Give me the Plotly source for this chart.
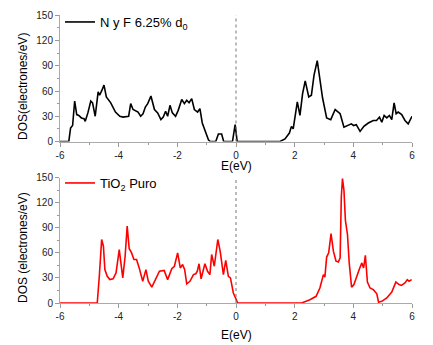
import plotly.graph_objects as go
from plotly.subplots import make_subplots

# ---- data ----
E_nyf = [-6, -5.70, -5.64, -5.57, -5.50, -5.43, -5.36, -5.27, -5.18, -5.14, -5.05, -4.95, -4.89, -4.80,
         -4.70, -4.65, -4.57, -4.50, -4.42, -4.27, -4.11, -3.96, -3.85, -3.74, -3.66, -3.59, -3.51, -3.34,
         -3.25, -3.17, -3.09, -3.01, -2.90, -2.78, -2.67, -2.56, -2.48, -2.40, -2.33, -2.25, -2.17, -2.06,
         -1.97, -1.85, -1.76, -1.68, -1.60, -1.51, -1.42, -1.31, -1.23, -1.15, -1.06, -0.94, -0.88, -0.69,
         -0.60, -0.49, -0.42, -0.12, -0.03, 0.04, 1.50, 1.67, 1.82, 1.89, 1.95, 2.09, 2.18, 2.27, 2.36,
         2.48, 2.57, 2.66, 2.77, 2.86, 2.95, 3.09, 3.23, 3.38, 3.55, 3.68, 3.82, 3.93, 4.01, 4.10, 4.23,
         4.36, 4.51, 4.68, 4.79, 4.89, 4.97, 5.05, 5.14, 5.23, 5.31, 5.39, 5.46, 5.53, 5.65, 5.76, 5.87, 6.0]
DOS_nyf = [0, 0, 16, 19, 48, 32, 31, 28, 27, 24, 34, 48, 46, 30,
           59, 55, 61, 67, 53, 46, 35, 30, 29, 30, 30, 45, 38, 35,
           30, 33, 41, 45, 54, 38, 34, 26, 29, 36, 30, 43, 34, 30,
           37, 50, 45, 49, 46, 51, 38, 35, 39, 22, 13, 2, 0, 0,
           9, 9, 0, 0, 20, 0, 0, 3, 10, 18, 15, 47, 31, 57, 72,
           53, 55, 79, 96, 73, 52, 28, 26, 38, 33, 17, 19, 21, 19, 20, 12,
           18, 22, 25, 25, 29, 23, 31, 28, 31, 26, 46, 33, 35, 32, 25, 21, 30]

E_tio2 = [-6, -4.73, -4.66, -4.58, -4.52, -4.47, -4.39, -4.30, -4.19, -4.09, -3.98, -3.86, -3.78, -3.71,
          -3.64, -3.56, -3.48, -3.39, -3.30, -3.18, -3.07, -2.99, -2.87, -2.76, -2.61, -2.45, -2.33, -2.19,
          -2.10, -1.99, -1.90, -1.82, -1.75, -1.68, -1.57, -1.45, -1.37, -1.32, -1.26, -1.19, -1.06, -0.97,
          -0.89, -0.83, -0.74, -0.62, -0.54, -0.43, -0.35, -0.26, -0.19, -0.09, -0.01, 0.06, 2.24, 2.52,
          2.73, 2.86, 2.98, 3.03, 3.09, 3.16, 3.24, 3.32, 3.41, 3.49, 3.55, 3.59, 3.63, 3.68, 3.73, 3.80,
          3.86, 3.94, 4.02, 4.12, 4.21, 4.29, 4.35, 4.41, 4.48, 4.57, 4.68, 4.80, 4.86, 4.97, 5.14, 5.31,
          5.45, 5.56, 5.64, 5.76, 5.84, 5.90, 5.99]
DOS_tio2 = [0, 0, 32, 76, 68, 40, 32, 28, 29, 36, 64, 30, 56, 92,
            65, 60, 52, 52, 42, 26, 40, 26, 19, 28, 38, 39, 28, 41,
            44, 60, 42, 46, 40, 23, 26, 34, 35, 38, 47, 29, 47, 38,
            34, 58, 44, 76, 62, 34, 51, 32, 30, 12, 5, 0, 0, 4,
            8, 18, 34, 31, 55, 60, 83, 62, 50, 49, 54, 127, 149, 135, 99, 82,
            48, 19, 22, 33, 41, 48, 42, 57, 25, 18, 16, 11, 1, 2, 6, 13,
            25, 22, 21, 24, 28, 26, 28]

x_ticks = [-6, -4, -2, 0, 2, 4, 6]
y_ticks = [0, 30, 60, 90, 120, 150]
name_nyf = "N y F 6.25% d<sub>0</sub>"
name_tio2 = "TiO<sub>2</sub> Puro"
ytitle_top = "DOS(electrones/eV)"
ytitle_bot = "DOS (electrones/eV)"
xtitle = "E(eV)"

FONT = "Liberation Sans, Arial, sans-serif"
W, H = 433, 345
ML, MR, MT, MB = 60, 21, 0, 42
PH = H - MT - MB

def py2paper(py):
    return (H - MB - py) / PH

def px2paper(px):
    return (px - ML) / (W - ML - MR)

fig = make_subplots(rows=2, cols=1)
fig.add_trace(go.Scatter(x=E_nyf, y=DOS_nyf, mode="lines", name=name_nyf,
                         line=dict(color="black", width=1.6), legend="legend"), row=1, col=1)
fig.add_trace(go.Scatter(x=E_tio2, y=DOS_tio2, mode="lines", name=name_tio2,
                         line=dict(color="#ff0000", width=1.6), legend="legend2"), row=2, col=1)

for r in (1, 2):
    fig.add_vline(x=0, line=dict(color="#777", width=1, dash="dot"), row=r, col=1)

axis_common = dict(showline=True, linecolor="#aaa", linewidth=1, ticks="outside", ticklen=4,
                   tickcolor="#999", tickwidth=1, showgrid=False, zeroline=False,
                   tickfont=dict(family=FONT, size=10, color="#222"))
fig.update_xaxes(range=[-6, 6], tickvals=x_ticks, ticktext=[str(v) for v in x_ticks],
                 minor=dict(dtick=1, ticks="outside", ticklen=2, tickcolor="#999", showgrid=False),
                 **axis_common)
fig.update_yaxes(range=[0, 150], tickvals=y_ticks,
                 minor=dict(dtick=15, ticks="outside", ticklen=2, tickcolor="#999", showgrid=False),
                 **axis_common)

fig.update_layout(
    yaxis=dict(domain=[py2paper(141.5), py2paper(15.3)]),
    yaxis2=dict(domain=[0.0, py2paper(177.7)]),
    width=W, height=H, margin=dict(l=ML, r=MR, t=MT, b=MB, autoexpand=False),
    paper_bgcolor="white", plot_bgcolor="white",
    font=dict(family=FONT, color="black"),
    legend=dict(x=px2paper(60), y=py2paper(7), xanchor="left", yanchor="top",
                bgcolor="rgba(0,0,0,0)", font=dict(size=13, family=FONT)),
    legend2=dict(x=px2paper(60), y=py2paper(168), xanchor="left", yanchor="top",
                 bgcolor="rgba(0,0,0,0)", font=dict(size=13, family=FONT)),
    showlegend=True,
)

ann_font = dict(family=FONT, size=12, color="black")
fig.add_annotation(text=ytitle_top, xref="paper", yref="paper", x=px2paper(23), y=py2paper(87),
                   textangle=-90, showarrow=False, font=ann_font, xanchor="center", yanchor="middle")
fig.add_annotation(text=ytitle_bot, xref="paper", yref="paper", x=px2paper(23), y=py2paper(248),
                   textangle=-90, showarrow=False, font=ann_font, xanchor="center", yanchor="middle")
fig.add_annotation(text=xtitle, xref="paper", yref="paper", x=px2paper(236), y=py2paper(166),
                   showarrow=False, font=ann_font, xanchor="center", yanchor="middle")
fig.add_annotation(text=xtitle, xref="paper", yref="paper", x=px2paper(236), y=py2paper(335),
                   showarrow=False, font=ann_font, xanchor="center", yanchor="middle")

fig.write_html("out.html")
